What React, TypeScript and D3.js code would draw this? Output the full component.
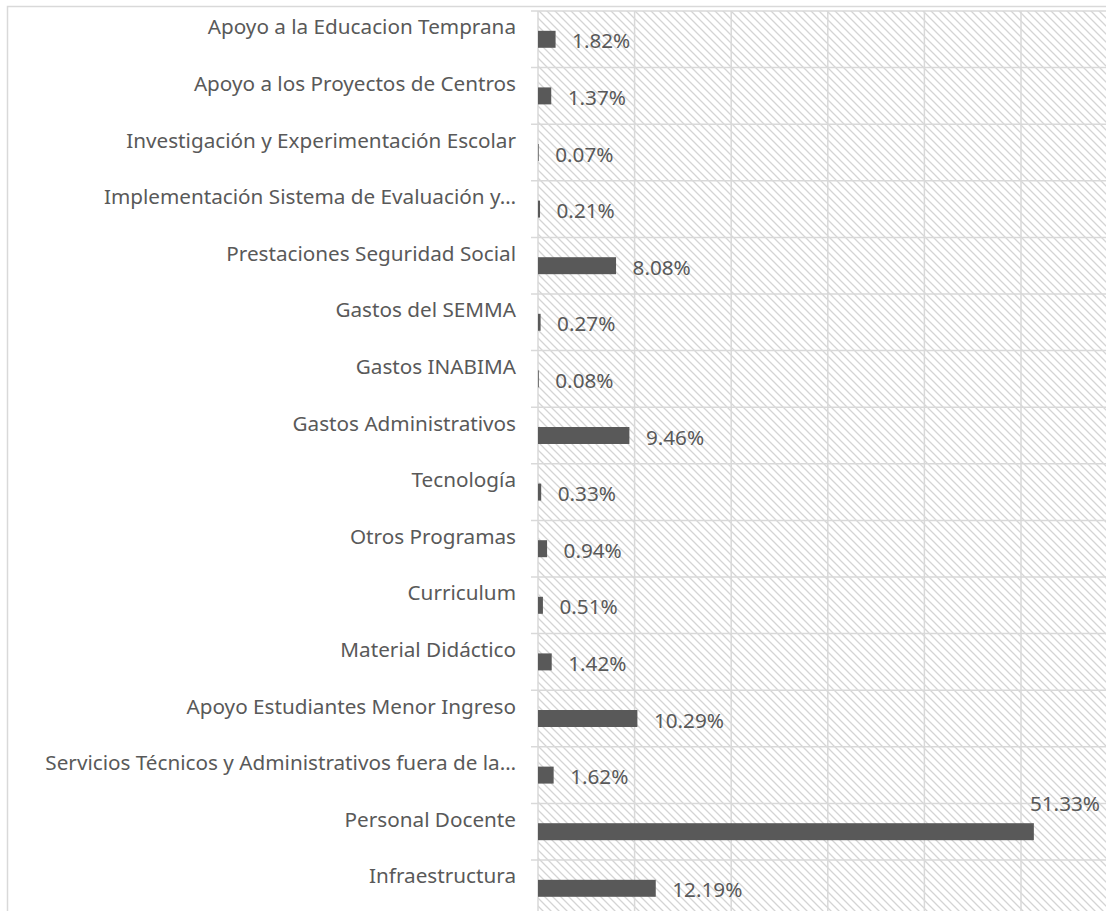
import React from "react";
import * as d3 from "d3";

const categories = [
  "Apoyo a la Educacion Temprana",
  "Apoyo a los Proyectos de Centros",
  "Investigación y Experimentación Escolar",
  "Implementación Sistema de Evaluación y…",
  "Prestaciones Seguridad Social",
  "Gastos del SEMMA",
  "Gastos INABIMA",
  "Gastos Administrativos",
  "Tecnología",
  "Otros Programas",
  "Curriculum",
  "Material Didáctico",
  "Apoyo Estudiantes Menor Ingreso",
  "Servicios Técnicos y Administrativos fuera de la…",
  "Personal Docente",
  "Infraestructura",
];
const values = [1.82, 1.37, 0.07, 0.21, 8.08, 0.27, 0.08, 9.46, 0.33, 0.94, 0.51, 1.42, 10.29, 1.62, 51.33, 12.19];
const xTicks = [0, 10, 20, 30, 40, 50, 60];

const W = 1106;
const H = 911;

export default function App() {
  const x = d3.scaleLinear().domain([0, 60]).range([538, 1117.6]);
  const rows = d3.scaleBand<string>().domain(categories).range([11, 916.6]);
  const y = d3.scaleBand<string>().domain(categories).range([11, 916.6]).paddingInner(0.7).paddingOuter(0.35);
  const step = rows.step();
  const font = "'Noto Sans', sans-serif";
  const fs = 20.7;
  const textColor = "#595959";
  const grid = "#d9d9d9";

  return (
    <svg width={W} height={H} style={{ position: "absolute", left: 0, top: 0 }}>
      <defs>
        <pattern id="hatch" width={8} height={8} patternUnits="userSpaceOnUse">
          <path d="M0,0 L8,8 M-2,6 L2,10 M6,-2 L10,2" stroke="#d4d4d4" strokeWidth={1.3} />
        </pattern>
      </defs>
      <rect x={0} y={0} width={W} height={H} fill="#fff" />
      <rect x={7.5} y={6.5} width={W + 20} height={H + 20} fill="none" stroke={grid} strokeWidth={1.5} />
      <rect x={x(0)} y={11} width={W - x(0)} height={H - 11} fill="url(#hatch)" />
      {xTicks.map((t) => (
        <line key={t} x1={x(t)} x2={x(t)} y1={11} y2={H} stroke={grid} strokeWidth={1.5} />
      ))}
      {categories.map((c) => (
        <line key={c} x1={531} x2={W} y1={rows(c)!} y2={rows(c)!} stroke={grid} strokeWidth={1.5} />
      ))}
      {categories.map((c, i) => {
        const v = values[i];
        const cy = rows(c)! + step / 2;
        const end = x(v);
        const overflow = end + 16.5 + 75 > W;
        return (
          <g key={c}>
            <text x={516} y={cy - 5} textAnchor="end" fontFamily={font} fontSize={fs} fill={textColor}>
              {c}
            </text>
            <rect x={x(0)} y={y(c)!} width={end - x(0)} height={y.bandwidth()} fill="#595959" />
            <text
              x={overflow ? 1100 : end + 16.5}
              y={overflow ? cy - 21 : cy + 9}
              textAnchor={overflow ? "end" : "start"}
              fontFamily={font}
              fontSize={fs}
              fill={textColor}
            >
              {v.toFixed(2) + "%"}
            </text>
          </g>
        );
      })}
    </svg>
  );
}
